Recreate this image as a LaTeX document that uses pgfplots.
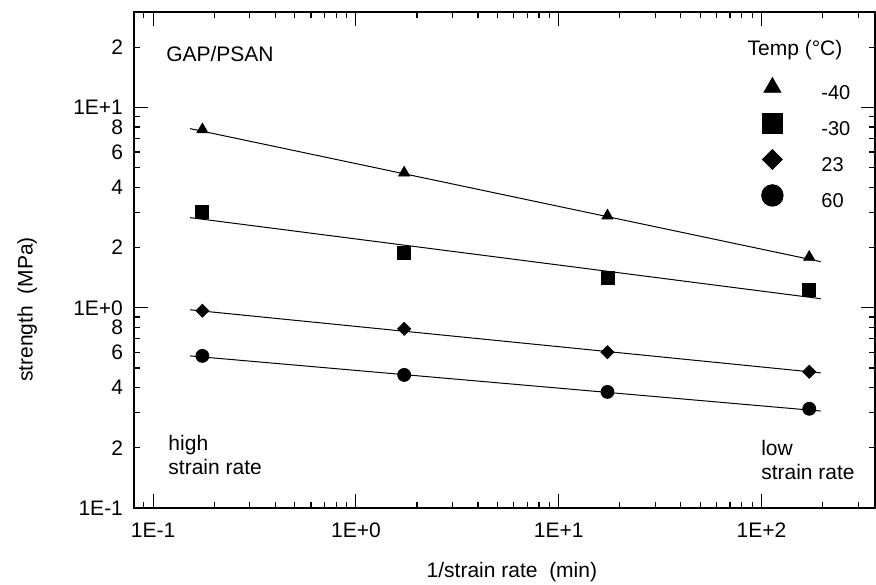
\documentclass[border=0pt]{standalone}
\usepackage{pgfplots}
\pgfplotsset{compat=1.18}
\usepackage{fontspec}
\setmainfont{Liberation Sans}
\begin{document}
\begin{tikzpicture}
\begin{axis}[
 at={(0,0)}, anchor=south west,
 scale only axis, width=370.5pt, height=248pt,
 xmode=log, ymode=log,
 xmin=0.0805, xmax=363, ymin=0.1, ymax=30,
 axis line style={line width=0.7pt},
 every tick/.style={line width=0.6pt, black},
 tick align=inside,
 major tick length=7pt, minor tick length=3pt,
 xtick={0.1,1,10,100}, xticklabels={1E-1,1E+0,1E+1,1E+2},
 minor xtick={0.09,0.2,0.3,0.4,0.5,0.6,0.7,0.8,0.9,2,3,4,5,6,7,8,9,20,30,40,50,60,70,80,90,200,300},
 ytick={0.1,1,10}, yticklabels={1E-1,1E+0,1E+1},
 extra y ticks={0.2,0.4,0.6,0.8,2,4,6,8,20},
 extra y tick labels={2,4,6,8,2,4,6,8,2},
 extra y tick style={major tick length=3pt},
 minor ytick={0.3,0.5,0.7,0.9,3,5,7,9},
 tick label style={font=\fontsize{10.5}{12}\selectfont},
 xticklabel style={yshift=-4pt},
 yticklabel style={xshift=-2pt},
 xlabel={1/strain rate~~(min)},
 ylabel={strength~~(MPa)},
 label style={font=\fontsize{10.5}{12}\selectfont},
 xlabel style={at={(axis description cs:0.51,-0.129)}, anchor=center},
 ylabel style={at={(axis description cs:-0.144,0.40)}, anchor=center},
 legend style={draw=none, fill=none, inner sep=0pt, row sep=0pt,
   nodes={inner sep=0pt, font=\fontsize{10}{12}\selectfont},
   at={(rel axis cs:0.8367,0.883)}, anchor=north west},
 legend cell align=left,
 legend image code/.code={
   \path[draw=none, fill=none] (-9pt,-6pt) rectangle (24.5pt,12pt);
   \draw[#1] plot coordinates {(0pt,3.5pt)};
 },
]
% fitted lines
\addplot[black, line width=0.5pt, forget plot] coordinates {(0.152,7.85) (196,1.70)};
\addplot[black, line width=0.5pt, forget plot] coordinates {(0.152,2.82) (196,1.11)};
\addplot[black, line width=0.5pt, forget plot] coordinates {(0.152,0.977) (196,0.473)};
\addplot[black, line width=0.5pt, forget plot] coordinates {(0.152,0.575) (196,0.305)};
% measured points
\addplot[only marks, mark=triangle*, mark size=3.2pt, black, forget plot] coordinates {
 (0.175,7.76) (1.73,4.72) (17.4,2.88) (172,1.79)};
\addplot[only marks, mark=square*, mark size=3.25pt, black, forget plot] coordinates {
 (0.175,3.02) (1.73,1.88) (17.4,1.41) (172,1.23)};
\addplot[only marks, mark=square*, mark size=2.3pt, mark options={rotate=45}, black, forget plot] coordinates {
 (0.175,0.966) (1.73,0.785) (17.4,0.60) (172,0.479)};
\addplot[only marks, mark=*, mark size=3.25pt, black, forget plot] coordinates {
 (0.175,0.575) (1.73,0.462) (17.4,0.38) (172,0.313)};
% legend
\addlegendimage{only marks, mark=triangle*, mark size=4.9pt, black}
\addlegendentry{-40}
\addlegendimage{only marks, mark=square*, mark size=5.2pt, black}
\addlegendentry{-30}
\addlegendimage{only marks, mark=square*, mark size=3.5pt, mark options={rotate=45}, black}
\addlegendentry{23}
\addlegendimage{only marks, mark=*, mark size=5.4pt, black}
\addlegendentry{60}
\node[anchor=center, font=\fontsize{10.5}{12}\selectfont] at (rel axis cs:0.892,0.923) {Temp (°C)};
\node[anchor=west, font=\fontsize{10.5}{12}\selectfont] at (rel axis cs:0.034,0.915) {GAP/PSAN};
\node[anchor=west, align=left, inner sep=0pt, font=\fontsize{10.5}{12}\selectfont] at (rel axis cs:0.046,0.107) {high\\strain rate};
\node[anchor=west, align=left, inner sep=0pt, font=\fontsize{10.5}{12}\selectfont] at (rel axis cs:0.846,0.097) {low\\strain rate};
\end{axis}
\pgfresetboundingbox
\path (-67pt,-38pt) rectangle (371pt,254pt);
\end{tikzpicture}
\end{document}
